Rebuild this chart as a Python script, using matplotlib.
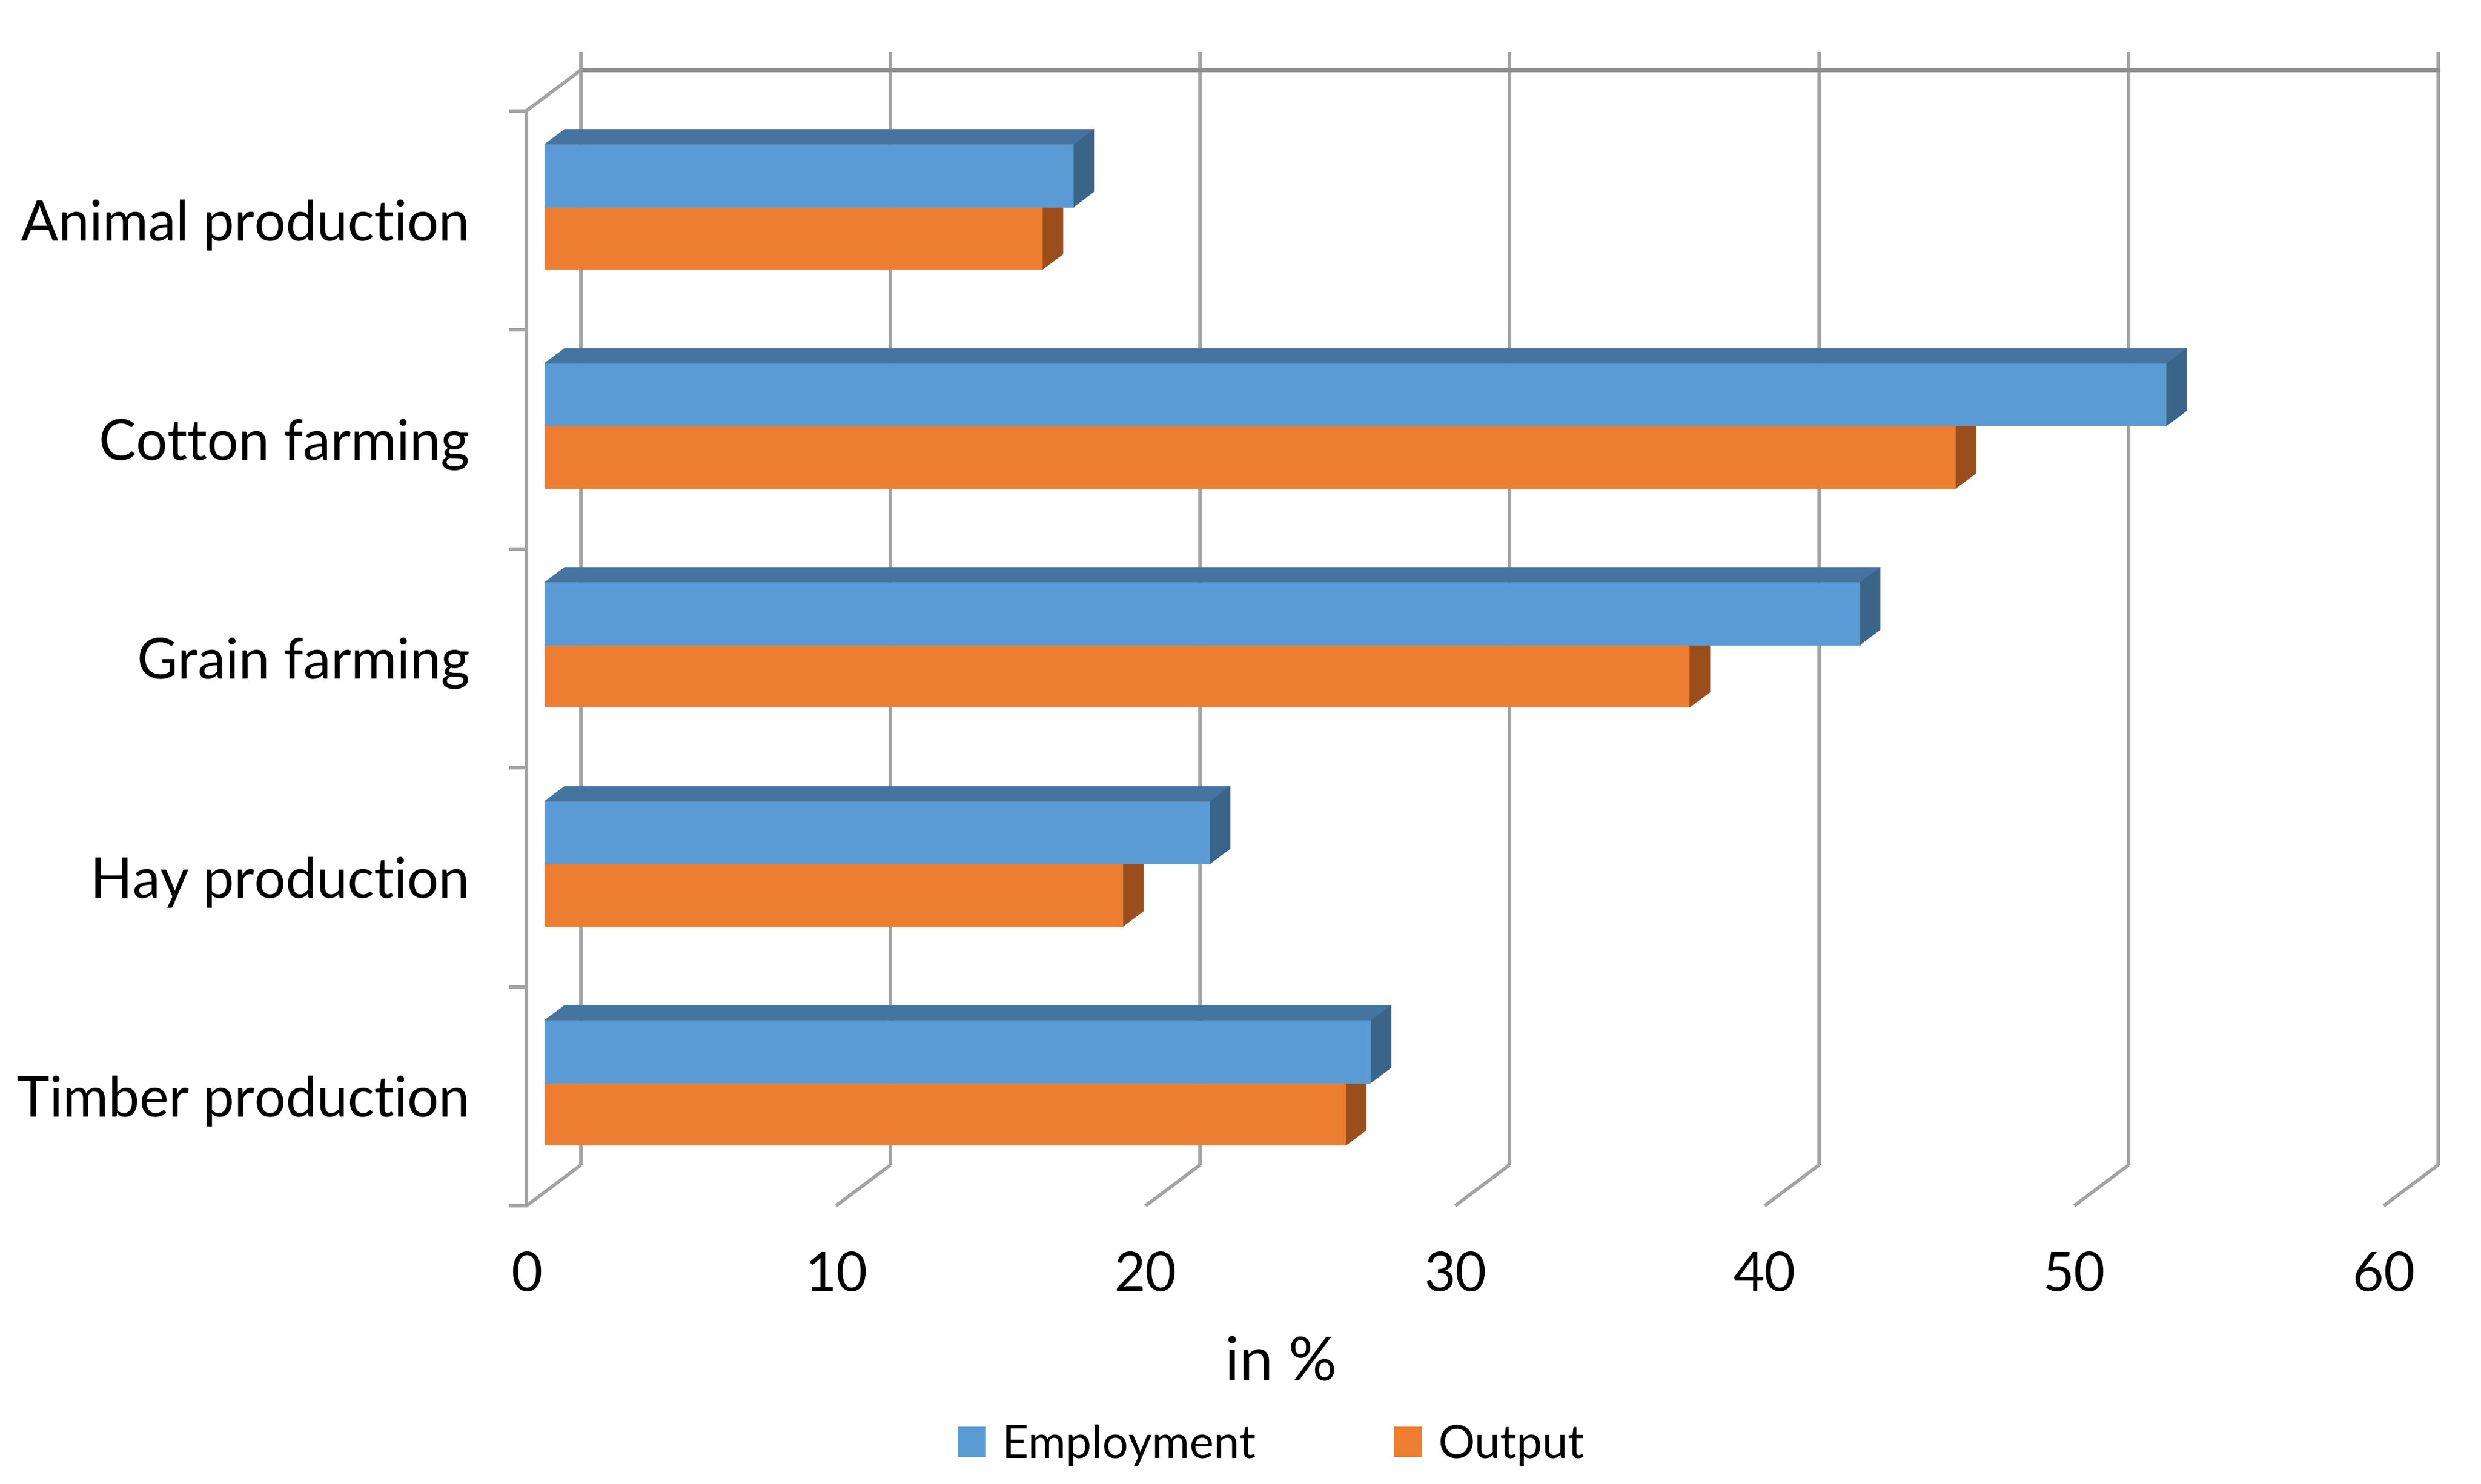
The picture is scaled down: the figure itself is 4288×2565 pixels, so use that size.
import matplotlib
matplotlib.use("Agg")
import matplotlib.pyplot as plt
from matplotlib.patches import Polygon, Patch
import numpy as np

plt.rcParams['font.family'] = ['Lato', 'DejaVu Sans']

# ---- data ----
categories = ["Animal production", "Cotton farming", "Grain farming",
              "Hay production", "Timber production"]
employment = [17.1, 52.4, 42.5, 21.5, 26.7]
output = [16.1, 45.6, 37.0, 18.7, 25.9]
xticks = [0, 10, 20, 30, 40, 50, 60]
series_names = ["Employment", "Output"]
x_title = "in %"

# ---- style ----
emp_front, emp_top, emp_side = '#5B9BD5', '#44749F', '#3A6589'
out_front, out_top, out_side = '#ED7D31', '#B05E24', '#9A4E1C'
grid_c = '#A3A3A3'
axis_c = '#8E8E8E'

W, H, DPI = 4288, 2565, 100
fig = plt.figure(figsize=(W / DPI, H / DPI), dpi=DPI)
fig.patch.set_facecolor('white')

# front plane of the 3-D box
ax = fig.add_axes([910 / W, (H - 2084) / H, 3210 / W, 1892.5 / H])
ax.set_xlim(0, 60)
ax.set_ylim(len(categories), 0)
ax.set_facecolor('none')

DX = 1.757   # depth offset in x data units (full depth)
DY = 0.186   # depth offset in category units (full depth, upward)
d0, d1 = 0.33, 0.70  # bar front / back depth fraction
h = 0.285            # height of one bar (category units)
n = len(categories)

# back wall grid lines + floor diagonals
for v in xticks:
    ax.plot([v + DX, v + DX], [-DY - 0.082, n - DY], color=grid_c, lw=4.3,
            solid_capstyle='butt', clip_on=False, zorder=1)
    ax.plot([v, v + DX], [n, n - DY], color=grid_c, lw=4.3,
            solid_capstyle='butt', clip_on=False, zorder=1)
# top edge of back wall and left wall
ax.plot([DX, xticks[-1] + DX], [-DY, -DY], color=axis_c, lw=5,
        clip_on=False, zorder=1)
ax.plot([0, DX], [0, -DY], color=grid_c, lw=4.3, clip_on=False, zorder=1)


def box(val, y_top, front, top, side, z):
    sx0, sy0 = d0 * DX, -d0 * DY
    sx1, sy1 = d1 * DX, -d1 * DY
    ax.barh(y_top + h / 2 + sy0, val, left=sx0, height=h, color=front,
            edgecolor=front, lw=0.5, zorder=z)
    top_poly = [(sx0, y_top + sy0), (val + sx0, y_top + sy0),
                (val + sx1, y_top + sy1), (sx1, y_top + sy1)]
    side_poly = [(val + sx0, y_top + sy0), (val + sx0, y_top + h + sy0),
                 (val + sx1, y_top + h + sy1), (val + sx1, y_top + sy1)]
    ax.add_patch(Polygon(top_poly, closed=True, facecolor=top,
                         edgecolor=top, lw=0.5, zorder=z, clip_on=False))
    ax.add_patch(Polygon(side_poly, closed=True, facecolor=side,
                         edgecolor=side, lw=0.5, zorder=z, clip_on=False))


for i, cat in enumerate(categories):
    c = i + 0.5
    box(output[i], c, out_front, out_top, out_side, 3)
    box(employment[i], c - h, emp_front, emp_top, emp_side, 4)

# axes / ticks
for s in ['top', 'right', 'bottom']:
    ax.spines[s].set_visible(False)
ax.spines['left'].set_color(grid_c)
ax.spines['left'].set_linewidth(4.3)
ax.set_xticks(xticks)
ax.set_xticklabels([str(t) for t in xticks], fontsize=67)
ax.tick_params(axis='x', length=0, pad=57)
ax.set_yticks(np.arange(n) + 0.5)
ax.set_yticklabels(categories, fontsize=69)
ax.set_yticks(np.arange(n + 1), minor=True)
ax.tick_params(axis='y', which='major', length=0, pad=71)
ax.tick_params(axis='y', which='minor', length=21.6, width=4.3,
               color=grid_c, direction='out')

fig.text(2214 / W, (H - 2386) / H, x_title, fontsize=75, ha='center',
         va='baseline')

handles = [Patch(facecolor=emp_front, edgecolor='none'),
           Patch(facecolor=out_front, edgecolor='none')]
fig.legend(handles, series_names, loc='center', ncol=2, frameon=False,
           bbox_to_anchor=(2197 / W, (H - 2498) / H), fontsize=57,
           handlelength=0.62, handleheight=0.62, handletextpad=0.35,
           columnspacing=3.0, borderpad=0)

fig.savefig('out.png', dpi=DPI, facecolor='white')
